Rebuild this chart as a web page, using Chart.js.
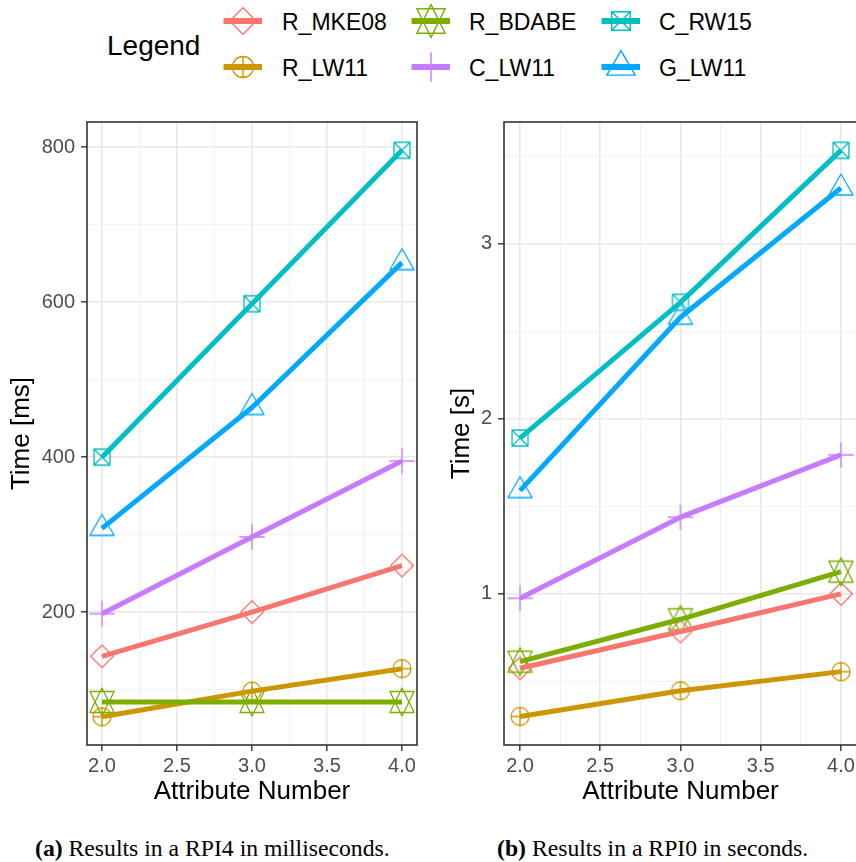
<!DOCTYPE html>
<html>
<head>
<meta charset="utf-8">
<script src="https://cdn.jsdelivr.net/npm/chart.js@4"></script>
<style>
  html, body { margin: 0; padding: 0; background: #fff; overflow: hidden; width: 856px; height: 862px; position: relative; }
  #legend-title { position: absolute; left: 107px; top: 31.8px; font-family: 'Liberation Sans', Arial, sans-serif; font-size: 28px; line-height: 28px; color: #000; }
  .lab { position: absolute; font-family: 'Liberation Sans', Arial, sans-serif; font-size: 23px; line-height: 23px; color: #000; white-space: nowrap; }
  .key { position: absolute; }
  .cap { position: absolute; top: 836.6px; font-family: 'Liberation Serif', 'Times New Roman', serif; font-size: 23.7px; line-height: 23.7px; color: #000; white-space: nowrap; }
  #rpi4 { position: absolute; left: 0; top: 100px; }
  #rpi0 { position: absolute; left: 432px; top: 100px; }
</style>
</head>
<body>
<div id="legend-title">Legend</div>
<div id="legend"></div>
<canvas id="rpi4" width="428" height="720"></canvas>
<canvas id="rpi0" width="440" height="720"></canvas>
<div class="cap" style="left:35px"><b>(a)</b> Results in a RPI4 in milliseconds.</div>
<div class="cap" style="left:497px"><b>(b)</b> Results in a RPI0 in seconds.</div>

<script>
// x values: number of attributes
const attributeNumbers = [2, 3, 4];

// series (legend order) with their colours and marker shapes
const seriesNames  = ['R_MKE08', 'R_LW11', 'R_BDABE', 'C_LW11', 'C_RW15', 'G_LW11'];
const seriesColors = ['#F8766D', '#CD9600', '#7CAE00', '#C77CFF', '#00BFC4', '#00A9FF'];
const seriesShapes = ['diamond', 'circlePlus', 'hexagram', 'plus', 'squareX', 'triangle'];

// RPI4 timings in milliseconds
const rpi4_R_MKE08 = [143, 200, 260];
const rpi4_R_LW11  = [65, 98, 127];
const rpi4_R_BDABE = [84, 84, 84];
const rpi4_C_LW11  = [198, 297, 395];
const rpi4_C_RW15  = [400, 598, 796];
const rpi4_G_LW11  = [308, 464, 651];

// RPI0 timings in seconds
const rpi0_R_MKE08 = [0.575, 0.785, 1.0];
const rpi0_R_LW11  = [0.30, 0.447, 0.556];
const rpi0_R_BDABE = [0.613, 0.855, 1.127];
const rpi0_C_LW11  = [0.975, 1.438, 1.794];
const rpi0_C_RW15  = [1.89, 2.665, 3.533];
const rpi0_G_LW11  = [1.59, 2.58, 3.318];

// labelled (major) ticks; minor grid lines sit halfway between them
const xMajorTicks    = [2.0, 2.5, 3.0, 3.5, 4.0];
const rpi4MajorTicks = [200, 400, 600, 800];
const rpi0MajorTicks = [1, 2, 3];

const rpi4Series = [rpi4_R_MKE08, rpi4_R_LW11, rpi4_R_BDABE, rpi4_C_LW11, rpi4_C_RW15, rpi4_G_LW11];
const rpi0Series = [rpi0_R_MKE08, rpi0_R_LW11, rpi0_R_BDABE, rpi0_C_LW11, rpi0_C_RW15, rpi0_G_LW11];

Chart.defaults.font.family = "'Liberation Sans', Arial, sans-serif";

// outline marker shapes in the style of R plotting symbols
function drawShape(ctx, shape, cx, cy, R) {
  ctx.beginPath();
  if (shape === 'diamond') {
    const d = 1.2533 * R;
    ctx.moveTo(cx, cy - d); ctx.lineTo(cx + d, cy); ctx.lineTo(cx, cy + d); ctx.lineTo(cx - d, cy); ctx.closePath();
  } else if (shape === 'circlePlus') {
    ctx.arc(cx, cy, R, 0, Math.PI * 2);
    ctx.moveTo(cx - R, cy); ctx.lineTo(cx + R, cy);
    ctx.moveTo(cx, cy - R); ctx.lineTo(cx, cy + R);
  } else if (shape === 'hexagram') {
    const r = 1.5551 * R, yc = 0.5 * (0.7776 * R + r), xc = 1.3468 * R;
    ctx.moveTo(cx, cy - r); ctx.lineTo(cx + xc, cy + yc); ctx.lineTo(cx - xc, cy + yc); ctx.closePath();
    ctx.moveTo(cx, cy + r); ctx.lineTo(cx + xc, cy - yc); ctx.lineTo(cx - xc, cy - yc); ctx.closePath();
  } else if (shape === 'plus') {
    const h = 1.4142 * R;
    ctx.moveTo(cx - h, cy); ctx.lineTo(cx + h, cy);
    ctx.moveTo(cx, cy - h); ctx.lineTo(cx, cy + h);
  } else if (shape === 'squareX') {
    const s = 0.8862 * R;
    ctx.rect(cx - s, cy - s, 2 * s, 2 * s);
    ctx.moveTo(cx - s, cy - s); ctx.lineTo(cx + s, cy + s);
    ctx.moveTo(cx + s, cy - s); ctx.lineTo(cx - s, cy + s);
  } else if (shape === 'triangle') {
    const r = 1.5551 * R, yc = 0.7776 * R, xc = 1.3468 * R;
    ctx.moveTo(cx, cy - r); ctx.lineTo(cx + xc, cy + yc); ctx.lineTo(cx - xc, cy + yc); ctx.closePath();
  }
  ctx.stroke();
}

function makeMarker(shape, color, R, lw) {
  const size = 36;
  const c = document.createElement('canvas');
  c.width = size; c.height = size;
  const ctx = c.getContext('2d');
  ctx.strokeStyle = color;
  ctx.lineWidth = lw;
  ctx.lineJoin = 'round';
  drawShape(ctx, shape, size / 2, size / 2, R);
  return c;
}

const markers = seriesNames.map((n, i) => makeMarker(seriesShapes[i], seriesColors[i], 9, 1.3));

// legend: two rows, filled column by column
const legendKeyLeft = [222, 410, 600];
const legendLabelLeft = [282, 469, 659];
const legendRowCenter = [21, 67];
const legendLabelTop = [10.5, 57.2];
const legendBox = document.getElementById('legend');
seriesNames.forEach((name, i) => {
  const col = Math.floor(i / 2), row = i % 2;
  const key = document.createElement('canvas');
  key.className = 'key';
  key.width = 42; key.height = 40;
  key.style.left = legendKeyLeft[col] + 'px';
  key.style.top = (legendRowCenter[row] - 20) + 'px';
  const k = key.getContext('2d');
  k.strokeStyle = seriesColors[i];
  k.lineWidth = 1.4;
  drawShape(k, seriesShapes[i], 21, 20, 10.5);
  k.lineWidth = 6;
  k.lineCap = 'butt';
  k.beginPath(); k.moveTo(1.5, 20); k.lineTo(40, 20); k.stroke();
  legendBox.appendChild(key);
  const lab = document.createElement('div');
  lab.className = 'lab';
  lab.textContent = name;
  lab.style.left = legendLabelLeft[col] + 'px';
  lab.style.top = legendLabelTop[row] + 'px';
  legendBox.appendChild(lab);
});

const panelBorder = {
  id: 'panelBorder',
  afterDraw(chart) {
    const a = chart.chartArea, ctx = chart.ctx;
    ctx.save();
    ctx.strokeStyle = '#333333';
    ctx.lineWidth = 1.6;
    ctx.strokeRect(a.left, a.top, a.right - a.left, a.bottom - a.top);
    ctx.restore();
  }
};

function buildDatasets(series) {
  const sets = [];
  series.forEach((vals, i) => {
    const pts = attributeNumbers.map((x, j) => ({ x: x, y: vals[j] }));
    sets.push({
      label: seriesNames[i] + ' points',
      data: pts,
      showLine: false,
      pointStyle: markers[i],
      pointRadius: 10,
      borderColor: seriesColors[i],
      backgroundColor: seriesColors[i],
      clip: false,
      order: 200 - i
    });
    sets.push({
      label: seriesNames[i],
      data: pts,
      borderColor: seriesColors[i],
      borderWidth: 5,
      borderCapStyle: 'butt',
      borderJoinStyle: 'round',
      pointRadius: 0,
      tension: 0,
      fill: false,
      order: 100 - i
    });
  });
  return sets;
}

// major ticks plus the minor positions halfway between (and half a step beyond) them
function withMinor(majors, lo, hi) {
  const step = majors[1] - majors[0];
  const all = [];
  majors.forEach(v => all.push(v));
  for (let i = -1; i < majors.length; i++) {
    const m = (i < 0 ? majors[0] - step / 2 : majors[i] + step / 2);
    if (m >= lo && m <= hi) all.push(m);
  }
  return all.sort((a, b) => a - b);
}

const near = (list, v) => list.some(m => Math.abs(m - v) < 1e-9);

function gridFor(majors) {
  return {
    color: ctx => (ctx.tick && near(majors, ctx.tick.value)) ? '#E8E8E8' : '#EFEFEF',
    lineWidth: ctx => (ctx.tick && near(majors, ctx.tick.value)) ? 1.6 : 0.9,
    tickColor: ctx => (ctx.tick && near(majors, ctx.tick.value)) ? '#333333' : 'rgba(0,0,0,0)',
    tickWidth: 1.4,
    tickLength: 6,
    drawOnChartArea: true
  };
}

function makeChart(canvasId, series, yMin, yMax, yMajors, yDigits, yTitle, yAxisWidth, yTitlePad, padRight) {
  return new Chart(document.getElementById(canvasId), {
    type: 'line',
    data: { datasets: buildDatasets(series) },
    options: {
      responsive: false,
      devicePixelRatio: 1,
      animation: false,
      events: [],
      layout: { padding: { left: 0, right: padRight, top: 22, bottom: 0 } },
      plugins: { legend: { display: false }, tooltip: { enabled: false } },
      scales: {
        x: {
          type: 'linear',
          min: 1.9, max: 4.1,
          border: { display: false },
          grid: gridFor(xMajorTicks),
          afterBuildTicks: s => { s.ticks = withMinor(xMajorTicks, s.min, s.max).map(v => ({ value: v })); },
          ticks: {
            autoSkip: false,
            maxRotation: 0,
            padding: 3,
            color: '#4D4D4D',
            font: { size: 20 },
            callback: v => near(xMajorTicks, v) ? v.toFixed(1) : ''
          },
          title: { display: true, text: 'Attribute Number', color: '#000', font: { size: 26 }, padding: { top: 0, bottom: 13 } },
          afterFit: s => { s.height = 75; }
        },
        y: {
          type: 'linear',
          min: yMin, max: yMax,
          border: { display: false },
          grid: gridFor(yMajors),
          afterBuildTicks: s => { s.ticks = withMinor(yMajors, s.min, s.max).map(v => ({ value: v })); },
          ticks: {
            autoSkip: false,
            padding: 6,
            color: '#4D4D4D',
            font: { size: 20 },
            callback: v => near(yMajors, v) ? v.toFixed(yDigits) : ''
          },
          title: { display: true, text: yTitle, color: '#000', font: { size: 26 }, padding: { top: yTitlePad, bottom: 0 } },
          afterFit: s => { s.width = yAxisWidth; }
        }
      }
    },
    plugins: [panelBorder]
  });
}

makeChart('rpi4', rpi4Series, 28.5, 832.5, rpi4MajorTicks, 0, 'Time [ms]', 87, 6, 11);
makeChart('rpi0', rpi0Series, 0.137, 3.695, rpi0MajorTicks, 0, 'Time [s]', 72, 14, 15);
</script>
</body>
</html>
